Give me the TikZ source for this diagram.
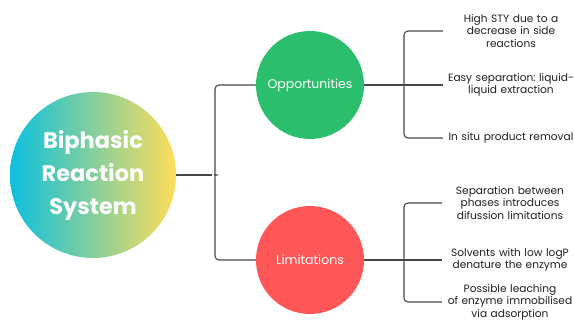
\documentclass[tikz,border=0pt]{standalone}
\usepackage{fontspec}
\setmainfont{Poppins}
\frenchspacing
\definecolor{cyanB}{HTML}{0CC0DF}
\definecolor{yellowB}{HTML}{FFDE59}
\definecolor{greenB}{HTML}{2BBE6C}
\definecolor{redB}{HTML}{FF5757}
\begin{document}
\begin{tikzpicture}[
      x=1pt,y=-1pt,
      bubble/.style ={circle,minimum size=#1,inner sep=0pt,text=white,align=center},
      bubble/.default=108pt,
      link/.style ={draw=black!72,line width=1.1pt,rounded corners=4pt},
      point/.style ={text width=132pt,align=center,inner sep=0pt,text=black!88,
                     font=\fontsize{10.6}{12.5}\selectfont}
      ]
    \useasboundingbox (0,0) rectangle (574,329);
    \node[bubble=166pt,left color=cyanB,right color=yellowB,
          font=\bfseries\fontsize{22.5}{33}\selectfont] (brs) at (93,175) {Biphasic\\Reaction\\System};
    \node[bubble,fill=greenB,font=\fontsize{12.5}{14}\selectfont] (opp) at (310,85) {Opportunities};
    \node[bubble,fill=redB,font=\fontsize{12.5}{14}\selectfont] (lim) at (310,260) {Limitations};
    \node[point] (o1) at (511,31) {High STY due to a\\decrease in side\\reactions};
    \node[point] (o2) at (511,85) {Easy separation: liquid-\\liquid extraction};
    \node[point] (o3) at (511,138) {In situ product removal};
    \node[point] (l1) at (510,203) {Separation between\\phases introduces\\difussion limitations};
    \node[point] (l2) at (510,260) {Solvents with low logP\\denature the enzyme};
    \node[point] (l3) at (510,302) {Possible leaching\\of enzyme immobilised\\via adsorption};
    % left brace
    \draw[link] (brs.east) -- (212,175);
    \draw[link] (opp.west) -| (215,169) .. controls (215,174) and (214,175) .. (212,175)
      .. controls (214,175) and (215,176) .. (215,181) |- (lim.west);
    % right braces
    \draw[link,shorten >=2pt] (opp.east) -- (o2.west);
    \draw[link,shorten <=2pt,shorten >=2pt] (o1.west) -| (404,79) .. controls (404,84) and (403,85) .. (401,85)
      .. controls (403,85) and (404,86) .. (404,91) |- (o3.west);
    \draw[link,shorten >=2pt] (lim.east) -- (l2.west);
    \draw[link,shorten <=2pt,shorten >=2pt] (l1.west) -| (404,254) .. controls (404,259) and (403,260) .. (401,260)
      .. controls (403,260) and (404,261) .. (404,266) |- (l3.west);
\end{tikzpicture}
\end{document}
